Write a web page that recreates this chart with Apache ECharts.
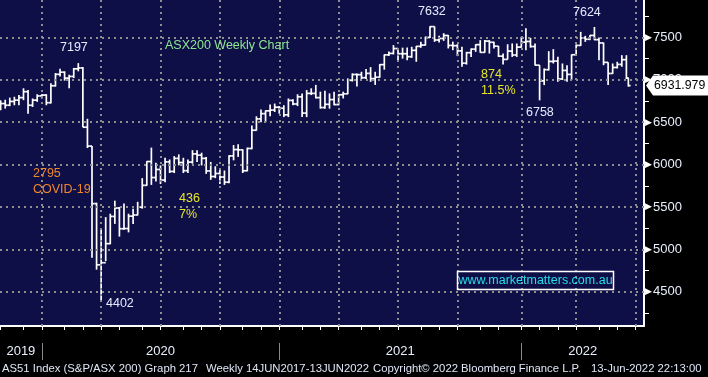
<!DOCTYPE html>
<html>
<head>
<meta charset="utf-8">
<script src="https://cdn.jsdelivr.net/npm/echarts@6/dist/echarts.min.js"></script>
<style>
  html, body { margin: 0; background: #000; }
  #main { width: 708px; height: 377px; }
</style>
</head>
<body>
<div id="main"></div>
<script>
// weekly bars, dated by last trading day of the week
const dates = [
  '2019-10-25','2019-11-01','2019-11-08','2019-11-15','2019-11-22','2019-11-29','2019-12-06','2019-12-13','2019-12-20','2019-12-27',
  '2020-01-03','2020-01-10','2020-01-17','2020-01-24','2020-01-31','2020-02-07','2020-02-14','2020-02-21','2020-02-28','2020-03-06',
  '2020-03-13','2020-03-20','2020-03-27','2020-04-03','2020-04-10','2020-04-17','2020-04-24','2020-05-01','2020-05-08','2020-05-15',
  '2020-05-22','2020-05-29','2020-06-05','2020-06-12','2020-06-19','2020-06-26','2020-07-03','2020-07-10','2020-07-17','2020-07-24',
  '2020-07-31','2020-08-07','2020-08-14','2020-08-21','2020-08-28','2020-09-04','2020-09-11','2020-09-18','2020-09-25','2020-10-02',
  '2020-10-09','2020-10-16','2020-10-23','2020-10-30','2020-11-06','2020-11-13','2020-11-20','2020-11-27','2020-12-04','2020-12-11',
  '2020-12-18','2020-12-25','2021-01-01','2021-01-08','2021-01-15','2021-01-22','2021-01-29','2021-02-05','2021-02-12','2021-02-19',
  '2021-02-26','2021-03-05','2021-03-12','2021-03-19','2021-03-26','2021-04-02','2021-04-09','2021-04-16','2021-04-23','2021-04-30',
  '2021-05-07','2021-05-14','2021-05-21','2021-05-28','2021-06-04','2021-06-11','2021-06-18','2021-06-25','2021-07-02','2021-07-09',
  '2021-07-16','2021-07-23','2021-07-30','2021-08-06','2021-08-13','2021-08-20','2021-08-27','2021-09-03','2021-09-10','2021-09-17',
  '2021-09-24','2021-10-01','2021-10-08','2021-10-15','2021-10-22','2021-10-29','2021-11-05','2021-11-12','2021-11-19','2021-11-26',
  '2021-12-03','2021-12-10','2021-12-17','2021-12-24','2021-12-31','2022-01-07','2022-01-14','2022-01-21','2022-01-28','2022-02-04',
  '2022-02-11','2022-02-18','2022-02-25','2022-03-04','2022-03-11','2022-03-18','2022-03-25','2022-04-01','2022-04-08','2022-04-15',
  '2022-04-22','2022-04-29','2022-05-06','2022-05-13','2022-05-20','2022-05-27','2022-06-03','2022-06-10','2022-06-13'
];
const opens = [
  6700,6720,6700,6745,6760,6790,6860,6700,6760,6810,
  6820,6730,6930,7065,7090,7020,7040,7130,7140,6441,
  6218,5539,4817,4842,5067,5388,5487,5243,5245,5391,
  5405,5497,5755,6036,5847,5942,5817,6032,5919,6073,
  6024,5928,6029,6126,6111,6073,5925,5859,5895,5853,
  5792,6102,6177,6174,5927,6190,6405,6539,6601,6634,
  6643,6677,6665,6587,6757,6715,6800,6607,6840,6840,
  6790,6673,6711,6767,6708,6824,6835,6995,7063,7061,
  7025,7076,7014,7031,7179,7295,7312,7369,7308,7308,
  7273,7348,7395,7410,7500,7628,7470,7488,7523,7406,
  7403,7342,7196,7320,7362,7415,7324,7457,7443,7397,
  7279,7241,7339,7293,7386,7444,7453,7393,7173,6988,
  7120,7217,7221,7010,7111,7064,7296,7406,7493,7479,
  7524,7474,7435,7206,7075,7146,7182,7238,7020
];
const highs = [
  6760,6765,6790,6800,6820,6900,6880,6780,6830,6830,
  6830,6960,7080,7130,7100,7060,7140,7197,7150,6540,
  6220,5550,5250,5380,5420,5574,5500,5540,5420,5480,
  5560,5840,6040,6200,6020,5990,6080,6060,6100,6120,
  6080,6060,6170,6170,6140,6090,6030,5980,5960,5930,
  6110,6230,6240,6180,6200,6460,6570,6650,6640,6710,
  6720,6690,6700,6780,6770,6830,6840,6880,6900,6940,
  6860,6870,6840,6860,6830,6860,7017,7076,7075,7095,
  7127,7150,7095,7185,7300,7335,7410,7375,7380,7380,
  7390,7400,7448,7510,7632,7630,7520,7550,7530,7450,
  7420,7390,7330,7370,7420,7468,7470,7468,7450,7400,
  7311,7420,7430,7429,7507,7610,7496,7430,7173,7134,
  7338,7362,7271,7193,7173,7300,7417,7566,7519,7527,
  7624,7500,7440,7206,7193,7213,7291,7291,7020
];
const lows = [
  6640,6660,6690,6700,6700,6760,6600,6680,6740,6780,
  6700,6720,6920,7040,6990,6900,7020,7100,6440,6195,
  4900,4760,4402,4860,5060,5300,5150,5230,5200,5300,
  5400,5480,5750,5760,5800,5770,5790,5900,5900,5990,
  5900,5900,6010,6030,5990,5890,5820,5840,5770,5760,
  5780,6050,6090,5900,5920,6180,6400,6500,6500,6570,
  6620,6600,6560,6560,6700,6690,6560,6560,6820,6780,
  6660,6660,6660,6700,6700,6780,6830,6980,6920,7010,
  7010,6976,6940,7025,7120,7280,7300,7230,7250,7230,
  7260,7213,7378,7405,7495,7448,7440,7460,7370,7350,
  7280,7154,7180,7270,7330,7320,7320,7310,7370,7270,
  7180,7240,7270,7270,7380,7350,7380,7170,6758,6938,
  7110,7193,6977,6997,6977,7000,7283,7400,7448,7468,
  7468,7232,7173,6938,7070,7134,7154,7010,6920
];
const closes = [
  6720,6700,6745,6760,6790,6860,6700,6760,6810,6820,
  6730,6930,7065,7090,7020,7040,7130,7140,6441,6218,
  5539,4817,4842,5067,5388,5487,5243,5245,5391,5405,
  5497,5755,6036,5847,5942,5817,6032,5919,6073,6024,
  5928,6029,6126,6111,6073,5925,5859,5895,5853,5792,
  6102,6177,6174,5927,6190,6405,6539,6601,6634,6643,
  6677,6665,6587,6757,6715,6800,6607,6840,6840,6790,
  6673,6711,6767,6708,6824,6835,6995,7063,7061,7025,
  7076,7014,7031,7179,7295,7312,7369,7308,7308,7273,
  7348,7395,7410,7500,7628,7470,7488,7523,7406,7403,
  7342,7196,7320,7362,7415,7324,7457,7443,7397,7279,
  7241,7339,7293,7386,7444,7453,7393,7173,6988,7120,
  7217,7221,7010,7111,7064,7296,7406,7493,7479,7524,
  7474,7435,7206,7075,7146,7182,7238,7020,6931.979
];

const yLabels = [4500, 5000, 5500, 6000, 6500, 7000, 7500];
const yTicks = [4250, 4500, 4750, 5000, 5250, 5500, 5750, 6000, 6250, 6500, 6750, 7000, 7250, 7500, 7750];
const xStart = '2019-10-24';
const xEnd = '2022-07-07';

const FONT = '"Liberation Sans", Arial, sans-serif';
const ts = s => Date.parse(s + 'T00:00:00Z');
const xMin = ts(xStart), xMax = ts(xEnd);

// Bloomberg marks each month at its last weekly bar (last Friday)
function monthMarks() {
  const out = [];
  for (let y = 2019; y <= 2022; y++) {
    for (let m = 0; m < 12; m++) {
      const d = new Date(Date.UTC(y, m + 1, 0));
      while (d.getUTCDay() !== 5) d.setUTCDate(d.getUTCDate() - 1);
      const t = d.getTime();
      if (t >= xMin && t <= xMax) out.push({ t: t, month: m });
    }
  }
  return out;
}
const marks = monthMarks();
const monthTicks = marks.map(k => k.t);
const quarterLines = marks.filter(k => k.month % 3 === 2).map(k => k.t);
const yearLines = marks.filter(k => k.month === 11).map(k => k.t);
const bounds = [xMin].concat(yearLines, [xMax]);
const yearMids = [];
for (let i = 0; i < bounds.length - 1; i++) yearMids.push((bounds[i] + bounds[i + 1]) / 2);

const bars = dates.map((d, i) => [ts(d), opens[i], highs[i], lows[i], closes[i]]);

const dotted = { type: [2, 4], color: '#8e8e8e', width: 2 };

let chart = echarts.init(document.getElementById('main'));
chart.setOption({
  backgroundColor: '#000',
  animation: false,
  grid: {
    left: 0, top: 0, right: 64, bottom: 51,
    show: true, backgroundColor: '#0f0f48', borderWidth: 0
  },
  xAxis: [{
    type: 'value',
    min: xMin,
    max: xMax,
    axisLine: { onZero: false, lineStyle: { color: '#fff', width: 2 } },
    axisTick: { customValues: monthTicks, length: 4, lineStyle: { color: '#fff' } },
    axisLabel: {
      customValues: yearMids,
      formatter: v => String(new Date(v).getUTCFullYear()),
      color: '#e8eefc', fontSize: 13, fontFamily: FONT, margin: 19
    },
    splitLine: { show: false }
  }, {
    type: 'value',
    min: xMin,
    max: xMax,
    position: 'bottom',
    offset: 17,
    axisLine: { show: false, onZero: false },
    axisLabel: { show: false },
    axisTick: { show: true, customValues: yearLines, length: 17, lineStyle: { color: '#8a8a8a', width: 1 } },
    splitLine: { show: false }
  }],
  yAxis: {
    type: 'value',
    position: 'right',
    min: 4095,
    max: 7942,
    axisLine: { show: true, lineStyle: { color: '#fff', width: 2 } },
    axisTick: { show: true, customValues: yTicks, length: 5, lineStyle: { color: '#fff' } },
    axisLabel: {
      customValues: yLabels,
      formatter: v => '{a|▶}' + v,
      rich: { a: { fontSize: 9, color: '#fff', padding: [0, 1, 0, 0] } },
      color: '#e8eefc', fontSize: 13, fontFamily: FONT, margin: 1
    },
    splitLine: { show: false }
  },
  series: [{
    type: 'line',
    data: [],
    z: 1,
    silent: true,
    markLine: {
      silent: true,
      symbol: ['none', 'none'],
      label: { show: false },
      lineStyle: dotted,
      data: yLabels.map(v => ({ yAxis: v })).concat(quarterLines.map(t => ({ xAxis: t })))
    }
  }, {
    type: 'custom',
    z: 3,
    silent: true,
    encode: { x: 0, y: [1, 2, 3, 4] },
    data: bars,
    renderItem: (params, api) => {
      const o = api.coord([api.value(0), api.value(1)]);
      const h = api.coord([api.value(0), api.value(2)]);
      const l = api.coord([api.value(0), api.value(3)]);
      const c = api.coord([api.value(0), api.value(4)]);
      const w = 2.3;
      const st = { stroke: '#fff', lineWidth: 1.7 };
      return {
        type: 'group',
        children: [
          { type: 'line', shape: { x1: o[0], y1: h[1], x2: o[0], y2: l[1] }, style: st },
          { type: 'line', shape: { x1: o[0] - w, y1: o[1], x2: o[0], y2: o[1] }, style: st },
          { type: 'line', shape: { x1: o[0], y1: c[1], x2: o[0] + w, y2: c[1] }, style: st }
        ]
      };
    }
  }]
});

// annotations
function label(txt, x, y, color, size) {
  return {
    type: 'text', x: x, y: y, z: 50,
    style: { text: txt, fill: color, font: (size || 12.5) + 'px ' + FONT, verticalAlign: 'middle' }
  };
}
const white = '#e6ecff', yellow = '#e6e62a', orange = '#f0862a';
const last = closes[closes.length - 1];
const ty = chart.convertToPixel({ yAxisIndex: 0 }, last);

chart.setOption({
  graphic: [
    label('7197', 60, 48, white),
    label('ASX200 Weekly Chart', 165, 46, '#8ee88e'),
    label('2795', 33, 174, orange),
    label('COVID-19', 33, 190, orange),
    label('4402', 106, 304, white),
    label('436', 179, 199, yellow),
    label('7%', 179, 215, yellow),
    label('7632', 418, 12, white),
    label('874', 481, 75, yellow),
    label('11.5%', 481, 91, yellow),
    label('6758', 526, 113, white),
    label('7624', 573, 13, white),
    {
      type: 'rect', z: 50,
      shape: { x: 457.5, y: 271.5, width: 156, height: 18 },
      style: { fill: 'none', stroke: '#fff', lineWidth: 1.5 }
    },
    {
      type: 'text', x: 535.5, y: 281, z: 51,
      style: { text: 'www.marketmatters.com.au', fill: '#28dcea', font: '12.5px ' + FONT, align: 'center', verticalAlign: 'middle' }
    },
    {
      type: 'polygon', z: 60,
      shape: { points: [[646, ty], [653, ty - 10], [708, ty - 10], [708, ty + 10], [653, ty + 10]] },
      style: { fill: '#fff' }
    },
    {
      type: 'text', x: 654, y: ty, z: 61,
      style: { text: last.toFixed(3), fill: '#000', font: '12.3px ' + FONT, verticalAlign: 'middle' }
    },
    label('AS51 Index (S&P/ASX 200) Graph 217', 2, 369, '#e0e6f8', 11.3),
    label('Weekly 14JUN2017-13JUN2022', 206, 369, '#e0e6f8', 11.3),
    label('Copyright\u00a9 2022 Bloomberg Finance L.P.', 373, 369, '#e0e6f8', 11.3),
    label('13-Jun-2022 22:13:00', 591, 369, '#e0e6f8', 11.3)
  ]
});
</script>
</body>
</html>
